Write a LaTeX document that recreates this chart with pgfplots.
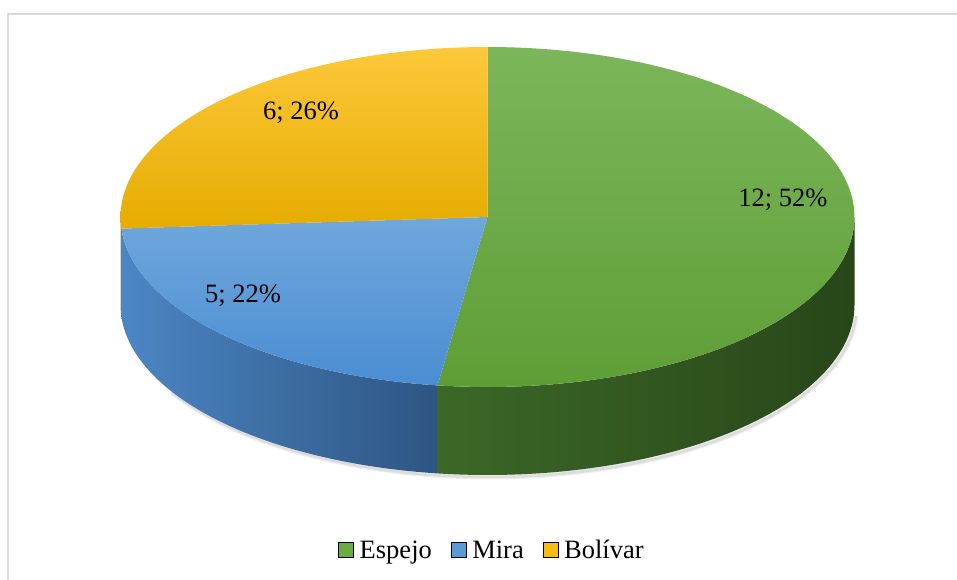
\documentclass[border=0pt]{standalone}
\usepackage{pgfplots}
\pgfplotsset{compat=1.18}
\usepackage{pgfplotstable}
\usepackage{fontspec}
\setmainfont{Liberation Serif}

\pgfplotstableread{
name value
Espejo 12
Mira 5
Bolivar 6
}\piedata

\pgfplotstablegetelem{0}{value}\of\piedata \edef\vA{\pgfplotsretval}
\pgfplotstablegetelem{1}{value}\of\piedata \edef\vB{\pgfplotsretval}
\pgfplotstablegetelem{2}{value}\of\piedata \edef\vC{\pgfplotsretval}
\pgfmathsetmacro\tot{\vA+\vB+\vC}
\pgfmathsetmacro\aA{90}
\pgfmathsetmacro\aB{90-360*\vA/\tot}
\pgfmathsetmacro\aC{\aB-360*\vB/\tot}
\pgfmathsetmacro\aD{\aC-360*\vC/\tot}

\def\cx{487.5}
\def\cy{363}
\def\rx{367}
\def\ry{170}
\def\dep{88}

\definecolor{gTop}{HTML}{7CB65A}
\definecolor{gBot}{HTML}{5E9E36}
\definecolor{gLeg}{HTML}{6AAB44}
\definecolor{bTop}{HTML}{70A7DC}
\definecolor{bBot}{HTML}{4A8DD2}
\definecolor{bLeg}{HTML}{5B9BD5}
\definecolor{yTop}{HTML}{FDC83A}
\definecolor{yBot}{HTML}{E5AC00}
\definecolor{yLeg}{HTML}{F7BC12}
\definecolor{gSideL}{HTML}{3B6827}
\definecolor{gSideR}{HTML}{284619}
\definecolor{bSideL}{HTML}{4C86C4}
\definecolor{bSideR}{HTML}{2D5582}
\definecolor{ySide}{HTML}{B88A00}

% sector of the top face: start angle, end angle, style
\newcommand\sector[3]{%
 \addplot[#3, draw=none, forget plot, domain=-1:100, samples=102]
  ({(x<-0.5) ? (\cx) : (\cx+\rx*cos((#1)+x/100*((#2)-(#1))))},
   {(x<-0.5) ? (\cy) : (\cy+\ry*sin((#1)+x/100*((#2)-(#1))))});
}
% side wall: start angle, end angle, style
\newcommand\side[3]{%
 \addplot[#3, draw=none, forget plot, domain=0:201, samples=202]
  ({\cx+\rx*cos((x<100.5) ? ((#1)+x/100*((#2)-(#1))) : ((#2)-(x-101)/100*((#2)-(#1))))},
   {\cy+\ry*sin((x<100.5) ? ((#1)+x/100*((#2)-(#1))) : ((#2)-(x-101)/100*((#2)-(#1)))) - ((x<100.5) ? 0 : \dep)});
}

\begin{document}
\begin{tikzpicture}
\begin{axis}[
  scale only axis, width=957pt, height=580pt,
  xmin=0, xmax=957, ymin=0, ymax=580,
  axis lines=none, clip=false,
  legend style={at={(axis cs:492,30)}, anchor=center, draw=none, fill=none,
    legend columns=-1, font=\fontsize{26.5}{30}\selectfont,
    /tikz/every even column/.append style={column sep=17pt}},
  legend image code/.code={\fill[#1] (0pt,-7.5pt) rectangle (15pt,7.5pt); \path (19pt,0pt);},
]
\draw[color=black!15, line width=1.5pt] (axis cs:8,566) rectangle (axis cs:980,-20);

% shadow
\addplot[draw=black, opacity=0.07, line width=5pt, forget plot, domain=-150:-3, samples=90]
  ({\cx+2+\rx*cos(x)}, {\cy+\ry*sin(x)-\dep-2});
\addplot[draw=black, opacity=0.07, line width=2.5pt, forget plot, domain=-150:-3, samples=90]
  ({\cx+2+\rx*cos(x)}, {\cy+\ry*sin(x)-\dep-2});

% side walls
\side{-180}{\aC}{fill=ySide}
\side{\aC}{\aB}{left color=bSideL, right color=bSideR}
\side{\aB}{0}{left color=gSideL, right color=gSideR}

% top faces
\sector{\aA}{\aB}{top color=gTop, bottom color=gBot}
\sector{\aB}{\aC}{top color=bTop, bottom color=bBot}
\sector{\aC}{\aD}{top color=yTop, bottom color=yBot}

\node[font=\fontsize{26.5}{30}\selectfont] at (axis cs:783,380) {12; 52\%};
\node[font=\fontsize{26.5}{30}\selectfont] at (axis cs:243,284) {5; 22\%};
\node[font=\fontsize{26.5}{30}\selectfont] at (axis cs:301,467) {6; 26\%};

\addlegendimage{fill=gLeg}
\addlegendentry{Espejo}
\addlegendimage{fill=bLeg}
\addlegendentry{Mira}
\addlegendimage{fill=yLeg}
\addlegendentry{Bolívar}
\end{axis}
\pgfresetboundingbox
\path[use as bounding box] (0,0) rectangle (957pt,580pt);
\end{tikzpicture}
\end{document}
